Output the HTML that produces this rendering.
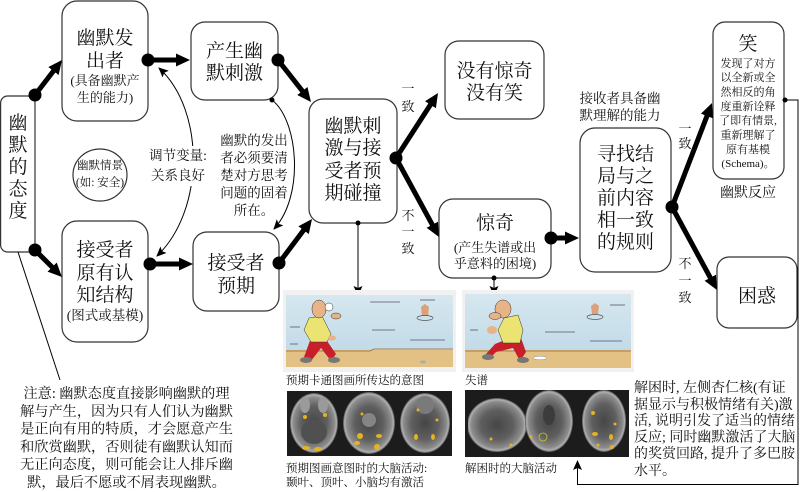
<!DOCTYPE html>
<html><head><meta charset="utf-8">
<style>
html,body{margin:0;padding:0;background:#fff;}
svg{display:block;}
text{font-family:"Liberation Serif","Noto Serif CJK SC",serif;fill:#111;}
</style></head>
<body>
<svg width="800" height="492" viewBox="0 0 800 492" xmlns="http://www.w3.org/2000/svg">
<defs>
<marker id="ah" markerUnits="userSpaceOnUse" markerWidth="14" markerHeight="13" refX="4" refY="6.5" orient="auto">
<path d="M0,0 L14,6.5 L0,13 z" fill="#000"/></marker>
<marker id="th" markerUnits="userSpaceOnUse" markerWidth="10" markerHeight="9" refX="9" refY="4.5" orient="auto-start-reverse">
<path d="M0,0 L10,4.5 L0,9 L2,4.5 z" fill="#000"/></marker>
<radialGradient id="br" cx="50%" cy="50%" r="50%">
<stop offset="0%" stop-color="#464646"/><stop offset="55%" stop-color="#5f5f5f"/><stop offset="86%" stop-color="#8c8c8c"/><stop offset="94%" stop-color="#b0b0b0"/><stop offset="100%" stop-color="#4a4a4a"/></radialGradient>
<linearGradient id="sky" x1="0" y1="0" x2="0" y2="1"><stop offset="0" stop-color="#d6e7ef"/><stop offset="1" stop-color="#c2dbe8"/></linearGradient>
</defs>

<!-- Boxes -->
<g fill="#fff" stroke="#333" stroke-width="1.2">
<rect x="0.6" y="96" width="34.4" height="156" rx="7"/>
<rect x="62" y="1" width="86" height="120" rx="15"/>
<rect x="191" y="22" width="87" height="78" rx="14"/>
<rect x="62" y="221" width="86" height="121" rx="15"/>
<rect x="193" y="232" width="86" height="79" rx="14"/>
<rect x="309" y="99" width="88" height="124" rx="14"/>
<rect x="445" y="41" width="99" height="78" rx="14"/>
<rect x="439" y="199" width="112" height="79" rx="14"/>
<rect x="580" y="128" width="91" height="144" rx="15"/>
<rect x="713" y="22" width="71" height="157" rx="12"/>
<rect x="717" y="257" width="80" height="71" rx="12"/>
<ellipse cx="100" cy="175" rx="27" ry="26"/>
</g>

<!-- thin connectors -->
<g fill="none" stroke="#000" stroke-width="1">
<path d="M159,68 C205,110 205,210 157,256" marker-start="url(#th)" marker-end="url(#th)"/>
<path d="M272,100 C298,120 305,195 274,229" marker-end="url(#th)"/>
<line x1="358" y1="223" x2="358" y2="295" marker-end="url(#th)"/>
<line x1="494" y1="278" x2="494" y2="295" marker-end="url(#th)"/>
<path d="M785,100 H798 V484.5 H577.5 V461" marker-end="url(#th)"/>
<line x1="18" y1="252" x2="60" y2="380"/>
</g>
<g fill="#000">
<circle cx="272" cy="100" r="2.5"/><circle cx="358" cy="223" r="2.5"/>
<circle cx="494" cy="278" r="2.5"/><circle cx="785" cy="100" r="2.5"/>
</g>

<!-- thick arrows -->
<g stroke="#000" stroke-width="5" fill="none" marker-end="url(#ah)">
<line x1="35" y1="95" x2="55.9" y2="67.9"/>
<line x1="35" y1="250" x2="54.9" y2="269.9"/>
<line x1="148" y1="60" x2="180" y2="60"/>
<line x1="278" y1="60" x2="304.8" y2="94.1"/>
<line x1="150" y1="264" x2="183" y2="264"/>
<line x1="279" y1="263" x2="306" y2="227"/>
<line x1="396" y1="158" x2="432.6" y2="101.4"/>
<line x1="396" y1="158" x2="434.2" y2="228.2"/>
<line x1="551" y1="238" x2="569" y2="238"/>
<line x1="672" y1="207" x2="708.4" y2="112.3"/>
<line x1="672" y1="207" x2="712.2" y2="281.2"/>
</g>
<g fill="#000">
<circle cx="35" cy="95" r="6.5"/><circle cx="35" cy="250" r="6.5"/>
<circle cx="148" cy="60" r="6.5"/><circle cx="278" cy="60" r="6.5"/>
<circle cx="150" cy="264" r="6.5"/><circle cx="279" cy="263" r="6.5"/>
<circle cx="396" cy="158" r="6.5"/><circle cx="551" cy="238" r="6.5"/>
<circle cx="672" cy="207" r="6.5"/>
</g>

<!-- box text -->
<g font-size="19" text-anchor="middle">
<text x="18" y="129">幽</text><text x="18" y="151">默</text><text x="18" y="173">的</text><text x="18" y="195">态</text><text x="18" y="217">度</text>
<text x="105" y="44">幽默发</text><text x="105" y="67">出者</text>
<text x="234.5" y="57">产生幽</text><text x="234.5" y="79">默刺激</text>
<text x="105" y="256">接受者</text><text x="105" y="279">原有认</text><text x="105" y="301">知结构</text>
<text x="236" y="269">接受者</text><text x="236" y="292">预期</text>
<text x="353" y="132">幽默刺</text><text x="353" y="154">激与接</text><text x="353" y="177">受者预</text><text x="353" y="199">期碰撞</text>
<text x="494.5" y="77">没有惊奇</text><text x="494.5" y="99">没有笑</text>
<text x="495" y="229">惊奇</text>
<text x="625.5" y="160">寻找结</text><text x="625.5" y="182">局与之</text><text x="625.5" y="204">前内容</text><text x="625.5" y="226">相一致</text><text x="625.5" y="248">的规则</text>
<text x="748" y="50">笑</text>
<text x="757" y="302">困惑</text>
</g>
<g font-size="13" text-anchor="middle">
<text x="105" y="85">(具备幽默产</text><text x="105" y="102">生的能力)</text>
<text x="105" y="320" font-size="13.5">(图式或基模)</text>
<text x="495" y="252">(产生失谱或出</text><text x="495" y="268">乎意料的困境)</text>
</g>
<g font-size="11.5" text-anchor="middle">
<text x="100" y="169">幽默情景</text><text x="100" y="186">(如: 安全)</text>
</g>
<g font-size="11" text-anchor="middle">
<text x="748" y="67">发现了对方</text>
<text x="748" y="81">以全新或全</text>
<text x="748" y="95.5">然相反的角</text>
<text x="748" y="110">度重新诠释</text>
<text x="748" y="124">了即有情景,</text>
<text x="748" y="138.5">重新理解了</text>
<text x="748" y="153">原有基模</text>
<text x="748" y="167">(Schema)。</text>
</g>
<text x="748" y="197" font-size="14" text-anchor="middle">幽默反应</text>
<g font-size="13.5" text-anchor="middle">
<text x="620" y="103">接收者具备幽</text><text x="620" y="120">默理解的能力</text>
</g>

<!-- 一致 labels -->
<g font-size="13" text-anchor="middle">
<text x="408" y="93">一</text><text x="408" y="111">致</text>
<text x="408" y="220">不</text><text x="408" y="236">一</text><text x="408" y="253">致</text>
<text x="685" y="133">一</text><text x="685" y="148">致</text>
<text x="685" y="268">不</text><text x="685" y="285">一</text><text x="685" y="302">致</text>
</g>

<!-- curve labels -->
<rect x="147" y="146" width="63" height="40" fill="#fff"/>
<g font-size="13.5" text-anchor="middle">
<text x="178" y="160">调节变量:</text><text x="178" y="180">关系良好</text>
<text x="254" y="145">幽默的发出</text>
<text x="254" y="162.5">者必须要清</text>
<text x="254" y="180">楚对方思考</text>
<text x="254" y="197.5">问题的固着</text>
<text x="254" y="215">所在。</text>
</g>

<!-- note -->
<g font-size="14.2" text-anchor="middle">
<text x="126.5" y="398">注意: 幽默态度直接影响幽默的理</text>
<text x="126.5" y="416">解与产生，因为只有人们认为幽默</text>
<text x="126.5" y="433.5">是正向有用的特质，才会愿意产生</text>
<text x="126.5" y="451.5">和欣赏幽默，否则徒有幽默认知而</text>
<text x="126.5" y="469">无正向态度，则可能会让人排斥幽</text>
<text x="126.5" y="487">默，最后不愿或不屑表现幽默。</text>
</g>

<!-- right note -->
<g font-size="14">
<text x="634" y="392">解困时, 左侧杏仁核(有证</text>
<text x="634" y="409">据显示与积极情绪有关)激</text>
<text x="634" y="425">活, 说明引发了适当的情绪</text>
<text x="634" y="441.5">反应; 同时幽默激活了大脑</text>
<text x="634" y="458">的奖赏回路, 提升了多巴胺</text>
<text x="634" y="475">水平。</text>
</g>

<!-- left cartoon -->
<rect x="283" y="290" width="173" height="82" fill="#f1f1f1"/>
<rect x="286" y="295" width="167" height="56" fill="url(#sky)"/>
<rect x="286" y="350" width="167" height="17" fill="#e3c184"/>
<path d="M286,351 H370 L374,349 H453" stroke="#8a6a3a" stroke-width="0.8" fill="none"/>
<g stroke="#556" stroke-width="0.8">
<line x1="290" y1="327" x2="300" y2="327"/><line x1="370" y1="302" x2="400" y2="302"/><line x1="372" y1="330" x2="395" y2="330"/><line x1="410" y1="340" x2="445" y2="340"/><line x1="290" y1="344" x2="298" y2="344"/><line x1="420" y1="300" x2="435" y2="300"/>
</g>
<polygon points="311,338 325,338 336,354 331,361 321,348 311,361 304,357" fill="#c8202a"/>
<ellipse cx="306" cy="360" rx="6" ry="3" fill="#777"/><ellipse cx="334" cy="360" rx="6" ry="3" fill="#777"/>
<polygon points="309,318 322,316 331,334 327,342 311,342 304,330" fill="#ebe472" stroke="#333" stroke-width="0.5"/>
<ellipse cx="319" cy="309" rx="7" ry="9" fill="#e7b387" stroke="#333" stroke-width="0.5"/>
<ellipse cx="336" cy="316" rx="5" ry="3" fill="#e7b387" stroke="#333" stroke-width="0.5"/>
<circle cx="329" cy="307" r="4" fill="#fff" stroke="#333" stroke-width="0.5"/>
<ellipse cx="332" cy="338" rx="4" ry="2.5" fill="#e7b387"/>
<polygon points="421,307 425,304 429,307 428,316 422,316" fill="#dca07a"/>
<ellipse cx="425" cy="318" rx="8" ry="2.5" fill="none" stroke="#555" stroke-width="0.7"/>
<ellipse cx="423" cy="362" rx="3" ry="1.5" fill="#aaa"/>
<text x="286" y="384" font-size="11.5">预期卡通图画所传达的意图</text>

<!-- left brains -->
<rect x="287" y="391" width="165" height="65" fill="#1c1c1c"/>
<ellipse cx="314" cy="423" rx="24" ry="30" fill="url(#br)"/>
<ellipse cx="369" cy="423" rx="26" ry="31" fill="url(#br)"/>
<ellipse cx="425" cy="423" rx="25" ry="30" fill="url(#br)"/>
<ellipse cx="314" cy="432" rx="13" ry="12" fill="#505050"/>
<ellipse cx="305" cy="405" rx="5" ry="8" fill="#9a9a9a"/><ellipse cx="323" cy="405" rx="5" ry="8" fill="#9a9a9a"/>
<ellipse cx="369" cy="420" rx="7" ry="7" fill="#858585"/>
<ellipse cx="425" cy="405" rx="9" ry="9" fill="#7a7a7a"/>
<g fill="#e6b21e">
<ellipse cx="306" cy="448" rx="4" ry="2"/><ellipse cx="318" cy="449" rx="4" ry="2"/><ellipse cx="305" cy="417" rx="2" ry="2"/><ellipse cx="325" cy="415" rx="2" ry="2"/>
<ellipse cx="360" cy="436" rx="3" ry="3"/><ellipse cx="357" cy="443" rx="3" ry="2"/><ellipse cx="379" cy="436" rx="3" ry="2"/><ellipse cx="377" cy="447" rx="3" ry="3"/><ellipse cx="362" cy="414" rx="1.5" ry="1.5"/>
<ellipse cx="416" cy="437" rx="2" ry="3"/><ellipse cx="433" cy="437" rx="2" ry="3"/><ellipse cx="418" cy="410" rx="1.5" ry="1.5"/><ellipse cx="437" cy="420" rx="1.5" ry="1.5"/>
</g>
<text x="286" y="472" font-size="11.5">预期图画意图时的大脑活动:</text>
<text x="286" y="486" font-size="11.5">颞叶、顶叶、小脑均有激活</text>

<!-- right cartoon -->
<rect x="462" y="290" width="172" height="82" fill="#f1f1f1"/>
<rect x="465" y="294" width="166" height="57" fill="url(#sky)"/>
<rect x="465" y="350" width="166" height="18" fill="#e3c184"/>
<path d="M465,351 H631" stroke="#8a6a3a" stroke-width="0.8"/>
<g stroke="#556" stroke-width="0.8">
<line x1="545" y1="332" x2="575" y2="332"/><line x1="590" y1="341" x2="622" y2="341"/><line x1="610" y1="305" x2="625" y2="305"/><line x1="470" y1="330" x2="478" y2="330"/>
</g>
<polygon points="505,340 521,338 526,352 520,361 513,348 496,352 490,358 486,354 495,344" fill="#c8202a"/>
<ellipse cx="488" cy="357" rx="6" ry="3" fill="#777"/><ellipse cx="523" cy="360" rx="6" ry="3" fill="#777"/>
<polygon points="504,318 518,315 523,330 520,343 503,343 498,330" fill="#ebe472" stroke="#333" stroke-width="0.5"/>
<ellipse cx="503" cy="309" rx="8" ry="9" fill="#e7b387" stroke="#333" stroke-width="0.5"/>
<ellipse cx="495" cy="316" rx="6" ry="3.5" fill="#e7b387" stroke="#333" stroke-width="0.5"/>
<ellipse cx="492" cy="330" rx="5" ry="4" fill="#e7b387"/>
<ellipse cx="540" cy="358" rx="7" ry="1.8" fill="#fff" stroke="#888" stroke-width="0.5"/>
<polygon points="591,306 595,303 599,306 598,314 592,314" fill="#dca07a"/>
<ellipse cx="595" cy="317" rx="8" ry="2.5" fill="none" stroke="#555" stroke-width="0.7"/>
<text x="465" y="384" font-size="11.5">失谱</text>

<!-- right brains -->
<rect x="465" y="390" width="164" height="67" fill="#1c1c1c"/>
<ellipse cx="497" cy="425" rx="30" ry="27" fill="url(#br)"/>
<rect x="465" y="390" width="3" height="67" fill="#1c1c1c"/>
<ellipse cx="549" cy="421" rx="24" ry="31" fill="url(#br)"/>
<ellipse cx="604" cy="421" rx="22" ry="31" fill="url(#br)"/>
<ellipse cx="549" cy="415" rx="6" ry="10" fill="#3c3c3c"/>
<circle cx="543" cy="437" r="4" fill="none" stroke="#c8c820" stroke-width="0.8"/>
<g fill="#e6b21e">
<ellipse cx="491" cy="439" rx="1.5" ry="1.5"/><ellipse cx="511" cy="445" rx="1.5" ry="1.5"/><ellipse cx="531" cy="437" rx="1.5" ry="1.5"/>
<ellipse cx="593" cy="413" rx="2" ry="2"/><ellipse cx="595" cy="434" rx="3" ry="2"/><ellipse cx="611" cy="437" rx="2" ry="3"/><ellipse cx="612" cy="447" rx="2" ry="2"/><ellipse cx="598" cy="445" rx="1.5" ry="1.5"/><ellipse cx="615" cy="424" rx="1.5" ry="1.5"/>
</g>
<text x="465" y="472" font-size="11.5">解困时的大脑活动</text>
</svg>
</body></html>
